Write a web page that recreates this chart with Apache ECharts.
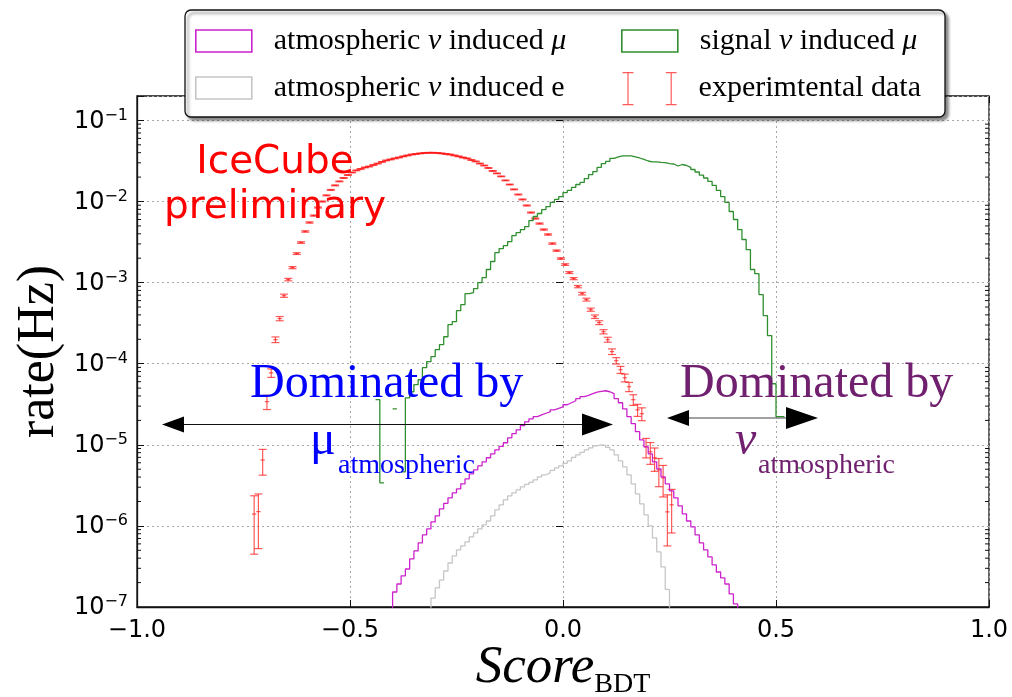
<!DOCTYPE html>
<html>
<head>
<meta charset="utf-8">
<script src="https://cdn.jsdelivr.net/npm/echarts@6/dist/echarts.min.js"></script>
<style>
  html, body { margin: 0; padding: 0; background: #fff; }
  #chart { width: 1012px; height: 697px; }
</style>
</head>
<body>
<div id="chart"></div>
<script>
// Histogram bins are 0.01 wide in Score_BDT; each "...Start" is the first bin centre.
const BIN = 0.01;

// atmospheric nu induced mu (rate in Hz per bin)
const atmMuStart = -0.405;
const atmMuRate = [
  7e-8, 1.53e-7, 1.92e-7, 2.42e-7, 2.94e-7, 3.92e-7, 4.91e-7, 6.17e-7, 7.74e-7, 9.18e-7,
  1.12e-6, 1.33e-6, 1.62e-6, 1.90e-6, 2.22e-6, 2.55e-6, 2.86e-6, 3.30e-6, 3.80e-6, 4.38e-6,
  4.91e-6, 5.51e-6, 6.17e-6, 6.92e-6, 7.74e-6, 8.67e-6, 9.58e-6, 1.06e-5, 1.22e-5, 1.37e-5,
  1.53e-5, 1.72e-5, 1.92e-5, 2.09e-5, 2.22e-5, 2.34e-5, 2.45e-5, 2.55e-5, 2.70e-5, 2.82e-5,
  2.94e-5, 3.12e-5, 3.30e-5, 3.49e-5, 3.70e-5, 3.92e-5, 4.08e-5, 4.27e-5, 4.45e-5, 4.57e-5,
  4.64e-5, 4.51e-5, 4.27e-5, 3.70e-5, 3.30e-5, 2.78e-5, 2.22e-5, 1.82e-5, 1.45e-5, 1.15e-5,
  9.44e-6, 7.74e-6, 6.17e-6, 5.06e-6, 4.03e-6, 3.30e-6, 2.70e-6, 2.22e-6, 1.77e-6, 1.41e-6,
  1.15e-6, 9.73e-7, 7.74e-7, 6.17e-7, 5.06e-7, 4.14e-7, 3.30e-7, 2.70e-7, 2.28e-7, 1.92e-7,
  1.45e-7, 1.09e-7, 7e-8
];

// atmospheric nu induced e
const atmEStart = -0.315;
const atmERate = [
  5e-8, 1.29e-7, 1.72e-7, 2.15e-7, 2.78e-7, 3.49e-7, 4.27e-7, 5.06e-7, 5.66e-7, 6.34e-7,
  7.31e-7, 8.20e-7, 9.18e-7, 1.03e-6, 1.15e-6, 1.33e-6, 1.58e-6, 1.82e-6, 2.09e-6, 2.34e-6,
  2.55e-6, 2.78e-6, 3.03e-6, 3.25e-6, 3.44e-6, 3.70e-6, 4.03e-6, 4.27e-6, 4.51e-6, 4.84e-6,
  5.20e-6, 5.51e-6, 5.91e-6, 6.34e-6, 7.01e-6, 7.53e-6, 8.07e-6, 8.67e-6, 9.18e-6, 9.73e-6,
  1.0e-5, 9.86e-6, 9.31e-6, 8.67e-6, 7.53e-6, 6.34e-6, 5.35e-6, 4.27e-6, 3.30e-6, 2.48e-6,
  1.87e-6, 1.37e-6, 1.0e-6, 7.11e-7, 4.78e-7, 3.12e-7, 1.65e-7, 5e-8
];

// signal nu induced mu (null = empty bin)
const signalStart = -0.455;
const signalRate = [
  4.64e-6, null, 3.60e-5, 3.40e-6, null, null, 2.78e-5, null, 4.64e-6, 3.80e-5,
  4.51e-5, 5.51e-5, 6.34e-5, 8.93e-5, 1.06e-4, 1.22e-4, 1.49e-4, 1.72e-4, 2.15e-4, 3.03e-4,
  3.30e-4, 4.51e-4, 5.35e-4, 7.31e-4, 7.53e-4, 8.43e-4, 1.0e-3, 1.15e-3, 1.45e-3, 1.82e-3,
  2.34e-3, 2.63e-3, 2.86e-3, 3.21e-3, 3.80e-3, 4.14e-3, 4.51e-3, 4.91e-3, 5.82e-3, 6.53e-3,
  7.11e-3, 7.96e-3, 8.67e-3, 9.73e-3, 1.06e-2, 1.15e-2, 1.29e-2, 1.37e-2, 1.49e-2, 1.62e-2,
  1.72e-2, 1.92e-2, 2.15e-2, 2.34e-2, 2.63e-2, 2.94e-2, 3.12e-2, 3.40e-2, 3.54e-2, 3.65e-2,
  3.65e-2, 3.65e-2, 3.56e-2, 3.44e-2, 3.30e-2, 3.16e-2, 3.09e-2, 3.08e-2, 3.03e-2, 3.01e-2,
  2.94e-2, 2.90e-2, 2.74e-2, 2.86e-2, 2.78e-2, 2.63e-2, 2.48e-2, 2.31e-2, 2.12e-2, 1.95e-2,
  1.77e-2, 1.58e-2, 1.37e-2, 1.15e-2, 9.73e-3, 7.53e-3, 6.0e-3, 4.51e-3, 3.40e-3, 2.55e-3,
  1.45e-3, 1.29e-3, 7.11e-4, 3.92e-4, 2.22e-4, 5.66e-5, 2.22e-5, 2.22e-5, null, null,
  null, 5.20e-6
];

// experimental data with relative statistical errors
const dataStart = -0.725;
const dataRate = [
  1.4e-6, 1.5e-6, 6.5e-6, 3.4e-5, 7.7e-5, 1.98e-4, 3.6e-4, 6.9e-4, 1.09e-3, 1.53e-3,
  2.28e-3, 3.12e-3, 4.27e-3, 5.51e-3, 6.71e-3, 8.43e-3, 1.0e-2, 1.19e-2, 1.39e-2, 1.58e-2,
  1.77e-2, 1.95e-2, 2.12e-2, 2.28e-2, 2.42e-2, 2.52e-2, 2.63e-2, 2.70e-2, 2.82e-2, 2.94e-2,
  3.08e-2, 3.21e-2, 3.30e-2, 3.40e-2, 3.49e-2, 3.60e-2, 3.70e-2, 3.80e-2, 3.86e-2, 3.92e-2,
  3.97e-2, 3.99e-2, 3.99e-2, 3.97e-2, 3.92e-2, 3.86e-2, 3.80e-2, 3.70e-2, 3.60e-2, 3.49e-2,
  3.40e-2, 3.25e-2, 3.12e-2, 2.94e-2, 2.78e-2, 2.59e-2, 2.38e-2, 2.22e-2, 2.04e-2, 1.82e-2,
  1.62e-2, 1.41e-2, 1.22e-2, 1.06e-2, 8.93e-3, 7.31e-3, 6.17e-3, 5.35e-3, 4.51e-3, 3.92e-3,
  3.03e-3, 2.48e-3, 1.98e-3, 1.67e-3, 1.33e-3, 1.12e-3, 8.93e-4, 7.31e-4, 6.17e-4, 4.64e-4,
  3.80e-4, 3.21e-4, 2.48e-4, 1.98e-4, 1.41e-4, 1.09e-4, 8.43e-5, 6.71e-5, 5.20e-5, 3.60e-5,
  2.70e-5, 2.42e-5, 9.44e-6, 8.20e-6, 6.92e-6, 4.91e-6, 3.92e-6, 1.49e-6, 1.82e-6
];
const dataRelErr = [
  0.68, 0.65, 0.35, 0.2, 0.12, 0.08, 0.06, 0.045, 0.035, 0.03,
  0.025, 0.022, 0.02, 0.018, 0.016, 0.015, 0.014, 0.013, 0.012, 0.012,
  0.011, 0.011, 0.01, 0.01, 0.01, 0.01, 0.01, 0.01, 0.01, 0.01,
  0.01, 0.01, 0.01, 0.01, 0.01, 0.01, 0.01, 0.01, 0.01, 0.01,
  0.01, 0.01, 0.01, 0.01, 0.01, 0.01, 0.01, 0.01, 0.01, 0.01,
  0.01, 0.01, 0.01, 0.01, 0.01, 0.01, 0.01, 0.01, 0.01, 0.011,
  0.011, 0.012, 0.012, 0.013, 0.014, 0.015, 0.016, 0.017, 0.018, 0.019,
  0.02, 0.02, 0.022, 0.024, 0.027, 0.03, 0.033, 0.037, 0.04, 0.045,
  0.05, 0.055, 0.06, 0.07, 0.08, 0.09, 0.1, 0.11, 0.13, 0.15,
  0.17, 0.18, 0.27, 0.3, 0.32, 0.38, 0.42, 0.62, 0.55
];

// axis tick labels
const xTickValues = [-1, -0.5, 0, 0.5, 1];
const xTickLabels = ['\u22121.0', '\u22120.5', '0.0', '0.5', '1.0'];
const yTickExponents = [-7, -6, -5, -4, -3, -2, -1];
const yTickLabels = ['\u22127', '\u22126', '\u22125', '\u22124', '\u22123', '\u22122', '\u22121'];

const NAME_MU = 'atmospheric \u03bd induced \u03bc';
const NAME_E = 'atmospheric \u03bd induced e';
const NAME_SIG = 'signal \u03bd induced \u03bc';
const NAME_DATA = 'experimtental data';

const C_MU = '#cc22cc';
const C_E = '#c6c6c6';
const C_SIG = '#2f8f2f';
const C_DATA = 'rgba(255,20,20,0.7)';

const SERIF = '"Liberation Serif", "Times New Roman", serif';
const SANS = '"DejaVu Sans", sans-serif';

// step outline of a histogram: both edges of every bin, gaps at empty bins
function histOutline(start, rates) {
  const pts = [];
  rates.forEach((v, i) => {
    const c = start + i * BIN;
    if (v == null) { pts.push([+c.toFixed(4), '-']); return; }
    pts.push([+(c - BIN / 2).toFixed(4), v], [+(c + BIN / 2).toFixed(4), v]);
  });
  return pts;
}

const dataPoints = dataRate.map((v, i) => [+(dataStart + i * BIN).toFixed(4), v, v * dataRelErr[i]]);

// minor tick positions of the log axis (2..9 in each decade)
const minorTicks = [];
for (let e = -7; e <= -1; e++) {
  for (let k = 2; k <= 9; k++) {
    const v = k * Math.pow(10, e);
    if (v < 0.2) minorTicks.push([-1, v]);
  }
}

const chart = echarts.init(document.getElementById('chart'), null, { renderer: 'canvas' });

const legendText = {
  padding: [0, 0, 0, 17],
  rich: {
    t: { fontFamily: SERIF, fontSize: 30, color: '#000' },
    m: { fontFamily: SERIF, fontSize: 30, fontStyle: 'italic', color: '#000' }
  }
};
function legendLabel(name) {
  if (name === NAME_MU) return '{t|atmospheric }{m|\u03bd}{t| induced }{m|\u03bc}';
  if (name === NAME_SIG) return '{t|signal }{m|\u03bd}{t| induced }{m|\u03bc}';
  if (name === NAME_E) return '{t|atmospheric }{m|\u03bd}{t| induced e}';
  return '{t|' + name + '}';
}
function legendFor(name, left, top, icon, w, h, style) {
  return {
    show: true, z: 10, padding: 0, left: left, top: top, orient: 'vertical',
    selectedMode: false, itemWidth: w, itemHeight: h, symbolKeepAspect: false,
    formatter: legendLabel, textStyle: legendText,
    data: [{ name: name, icon: icon, itemStyle: style }]
  };
}

const option = {
  animation: false,
  backgroundColor: '#fff',
  grid: {
    left: 137, right: 23, top: 96, bottom: 90,
    show: true, borderColor: '#111', borderWidth: 1.3,
    backgroundColor: 'transparent', containLabel: false, outerBoundsMode: 'none'
  },
  legend: [
    legendFor(NAME_MU, 195, 26, 'rect', 56, 22, { color: 'rgba(0,0,0,0)', borderColor: C_MU, borderWidth: 1.6 }),
    legendFor(NAME_E, 195, 73, 'rect', 56, 22, { color: 'rgba(0,0,0,0)', borderColor: C_E, borderWidth: 1.6 }),
    legendFor(NAME_SIG, 621, 26, 'rect', 56, 22, { color: 'rgba(0,0,0,0)', borderColor: C_SIG, borderWidth: 1.6 }),
    legendFor(NAME_DATA, 622, 72, 'path://M0,0H10M5,0V32M0,32H10M40,0H50M45,0V32M40,32H50', 54, 32,
      { color: 'rgba(0,0,0,0)', borderColor: C_DATA, borderWidth: 1.2 })
  ],
  xAxis: [{
    type: 'value', min: -1, max: 1, interval: 0.5, position: 'bottom',
    axisLine: { show: true, onZero: false, lineStyle: { color: '#111', width: 1.3 } },
    axisTick: { show: true, inside: true, length: 7, lineStyle: { color: '#111', width: 1 } },
    axisLabel: {
      margin: 12, color: '#000', fontFamily: SANS, fontSize: 24,
      formatter: v => { const i = xTickValues.findIndex(t => Math.abs(t - v) < 1e-9); return i < 0 ? '' : xTickLabels[i]; }
    },
    splitLine: { show: true, lineStyle: { color: '#a8a8a8', width: 1, type: [2, 3] } },
    name: '{s|Score}{b|BDT}', nameLocation: 'middle', nameGap: 30, nameMoveOverlap: false,
    nameTextStyle: {
      color: '#000',
      rich: {
        s: { fontFamily: SERIF, fontStyle: 'italic', fontSize: 53, lineHeight: 62, verticalAlign: 'middle', color: '#000' },
        b: { fontFamily: SERIF, fontSize: 28, lineHeight: 28, verticalAlign: 'bottom', color: '#000' }
      }
    }
  }, {
    type: 'value', min: -1, max: 1, interval: 0.5, position: 'top',
    axisLine: { show: false },
    axisTick: { show: true, inside: true, length: 7, lineStyle: { color: '#111', width: 1 } },
    axisLabel: { show: false }, splitLine: { show: false }
  }],
  yAxis: [{
    type: 'log', logBase: 10, min: 1e-7, max: 0.2, position: 'left',
    axisLine: { show: true, onZero: false, lineStyle: { color: '#111', width: 1.3 } },
    axisTick: { show: true, inside: true, length: 7, lineStyle: { color: '#111', width: 1 } },
    axisLabel: {
      margin: 9, color: '#000',
      formatter: v => {
        const lg = Math.log10(v);
        const i = yTickExponents.findIndex(e => Math.abs(e - lg) < 1e-6);
        return i < 0 ? '' : '{b|10}{s|' + yTickLabels[i] + '}';
      },
      rich: {
        b: { fontFamily: SANS, fontSize: 24, lineHeight: 26, verticalAlign: 'bottom', color: '#000' },
        s: { fontFamily: SANS, fontSize: 16, lineHeight: 16, verticalAlign: 'top', padding: [0, 0, 18, 0], color: '#000' }
      }
    },
    splitLine: { show: true, lineStyle: { color: '#a8a8a8', width: 1, type: [2, 3] } },
    name: 'rate(Hz)', nameLocation: 'middle', nameRotate: 90, nameGap: 72, nameMoveOverlap: false,
    nameTextStyle: { fontFamily: SERIF, fontSize: 52, color: '#000' }
  }, {
    type: 'log', logBase: 10, min: 1e-7, max: 0.2, position: 'right',
    axisLine: { show: false },
    axisTick: { show: true, inside: true, length: 7, lineStyle: { color: '#111', width: 1 } },
    axisLabel: { show: false }, splitLine: { show: false }
  }],
  series: [
    {
      name: 'minor ticks', type: 'custom', coordinateSystem: 'cartesian2d', silent: true, clip: false,
      data: minorTicks, z: 3,
      renderItem: (params, api) => {
        const v = api.value(1);
        const l = api.coord([-1, v]);
        const r = api.coord([1, v]);
        const st = { stroke: '#111', lineWidth: 1 };
        return {
          type: 'group', children: [
            { type: 'line', shape: { x1: l[0], y1: l[1], x2: l[0] + 4, y2: l[1] }, style: st },
            { type: 'line', shape: { x1: r[0] - 4, y1: r[1], x2: r[0], y2: r[1] }, style: st }
          ]
        };
      }
    },
    {
      name: NAME_E, type: 'line', data: histOutline(atmEStart, atmERate),
      showSymbol: false, symbol: 'none', connectNulls: false, clip: true,
      lineStyle: { color: C_E, width: 1.3 }, itemStyle: { color: C_E }
    },
    {
      name: NAME_MU, type: 'line', data: histOutline(atmMuStart, atmMuRate),
      showSymbol: false, symbol: 'none', connectNulls: false, clip: true,
      lineStyle: { color: C_MU, width: 1.3 }, itemStyle: { color: C_MU }
    },
    {
      name: NAME_SIG, type: 'line', data: histOutline(signalStart, signalRate),
      showSymbol: false, symbol: 'none', connectNulls: false, clip: true,
      lineStyle: { color: C_SIG, width: 1.3 }, itemStyle: { color: C_SIG }
    },
    {
      name: NAME_DATA, type: 'custom', coordinateSystem: 'cartesian2d', clip: true,
      itemStyle: { color: C_DATA }, data: dataPoints,
      encode: { x: 0, y: 1 },
      renderItem: (params, api) => {
        const x = api.value(0), y = api.value(1), e = api.value(2);
        const c = api.coord([x, y]);
        const t = api.coord([x, y + e]);
        const lowV = y - e;
        const b = lowV > 0 ? api.coord([x, lowV]) : [c[0], params.coordSys.y + params.coordSys.height + 20];
        const xl = api.coord([x - BIN / 2, y])[0];
        const xr = api.coord([x + BIN / 2, y])[0];
        const cap = 4;
        const st = { stroke: C_DATA, lineWidth: 1.2, fill: null };
        const seg = (x1, y1, x2, y2) => ({ type: 'line', shape: { x1, y1, x2, y2 }, style: st });
        return {
          type: 'group', children: [
            seg(c[0], t[1], c[0], b[1]),
            seg(c[0] - cap, t[1], c[0] + cap, t[1]),
            seg(c[0] - cap, b[1], c[0] + cap, b[1]),
            seg(xl, c[1], xr, c[1])
          ]
        };
      }
    }
  ],
  graphic: [
    // legend frame
    {
      type: 'rect', z: 9, silent: true,
      shape: { x: 185, y: 10, width: 760, height: 107, r: 6 },
      style: { fill: '#fff', stroke: '#111', lineWidth: 1.3, shadowBlur: 3, shadowOffsetX: 3, shadowOffsetY: 3, shadowColor: 'rgba(0,0,0,0.45)' }
    },
    {
      type: 'text', z: 20, x: 275, y: 185, silent: true,
      style: { text: 'IceCube\npreliminary', fill: '#ff0000', fontFamily: SANS, fontSize: 39, lineHeight: 45, align: 'center', verticalAlign: 'middle' }
    },
    {
      type: 'text', z: 20, x: 250, y: 384, silent: true,
      style: { text: 'Dominated by', fill: '#0000ff', fontFamily: SERIF, fontSize: 48, align: 'left', verticalAlign: 'middle' }
    },
    {
      type: 'text', z: 20, x: 310, y: 441, silent: true,
      style: { text: '\u03bc', fill: '#0000ff', fontFamily: SERIF, fontSize: 48, align: 'left', verticalAlign: 'middle' }
    },
    {
      type: 'text', z: 20, x: 338, y: 466, silent: true,
      style: { text: 'atmospheric', fill: '#0000ff', fontFamily: SERIF, fontSize: 28, align: 'left', verticalAlign: 'middle' }
    },
    {
      type: 'text', z: 20, x: 680, y: 384, silent: true,
      style: { text: 'Dominated by', fill: '#70206f', fontFamily: SERIF, fontSize: 48, align: 'left', verticalAlign: 'middle' }
    },
    {
      type: 'text', z: 20, x: 735, y: 441, silent: true,
      style: { text: '\u03bd', fill: '#70206f', fontFamily: SERIF, fontStyle: 'italic', fontSize: 48, align: 'left', verticalAlign: 'middle' }
    },
    {
      type: 'text', z: 20, x: 758, y: 466, silent: true,
      style: { text: 'atmospheric', fill: '#70206f', fontFamily: SERIF, fontSize: 28, align: 'left', verticalAlign: 'middle' }
    },
    // double arrow under the left annotation
    { type: 'line', z: 20, silent: true, shape: { x1: 178, y1: 424.5, x2: 590, y2: 424.5 }, style: { stroke: '#111', lineWidth: 1.2 } },
    { type: 'polygon', z: 20, silent: true, shape: { points: [[162, 424.5], [184, 416.5], [184, 432.5]] }, style: { fill: '#000' } },
    { type: 'polygon', z: 20, silent: true, shape: { points: [[613, 424.5], [582, 413.5], [582, 435.5]] }, style: { fill: '#000' } },
    // double arrow under the right annotation
    { type: 'line', z: 20, silent: true, shape: { x1: 682, y1: 418, x2: 795, y2: 418 }, style: { stroke: '#444', lineWidth: 1.2 } },
    { type: 'polygon', z: 20, silent: true, shape: { points: [[667, 418], [689, 410], [689, 426]] }, style: { fill: '#000' } },
    { type: 'polygon', z: 20, silent: true, shape: { points: [[818, 418], [786, 407], [786, 429]] }, style: { fill: '#000' } }
  ]
};

chart.setOption(option);
</script>
</body>
</html>
